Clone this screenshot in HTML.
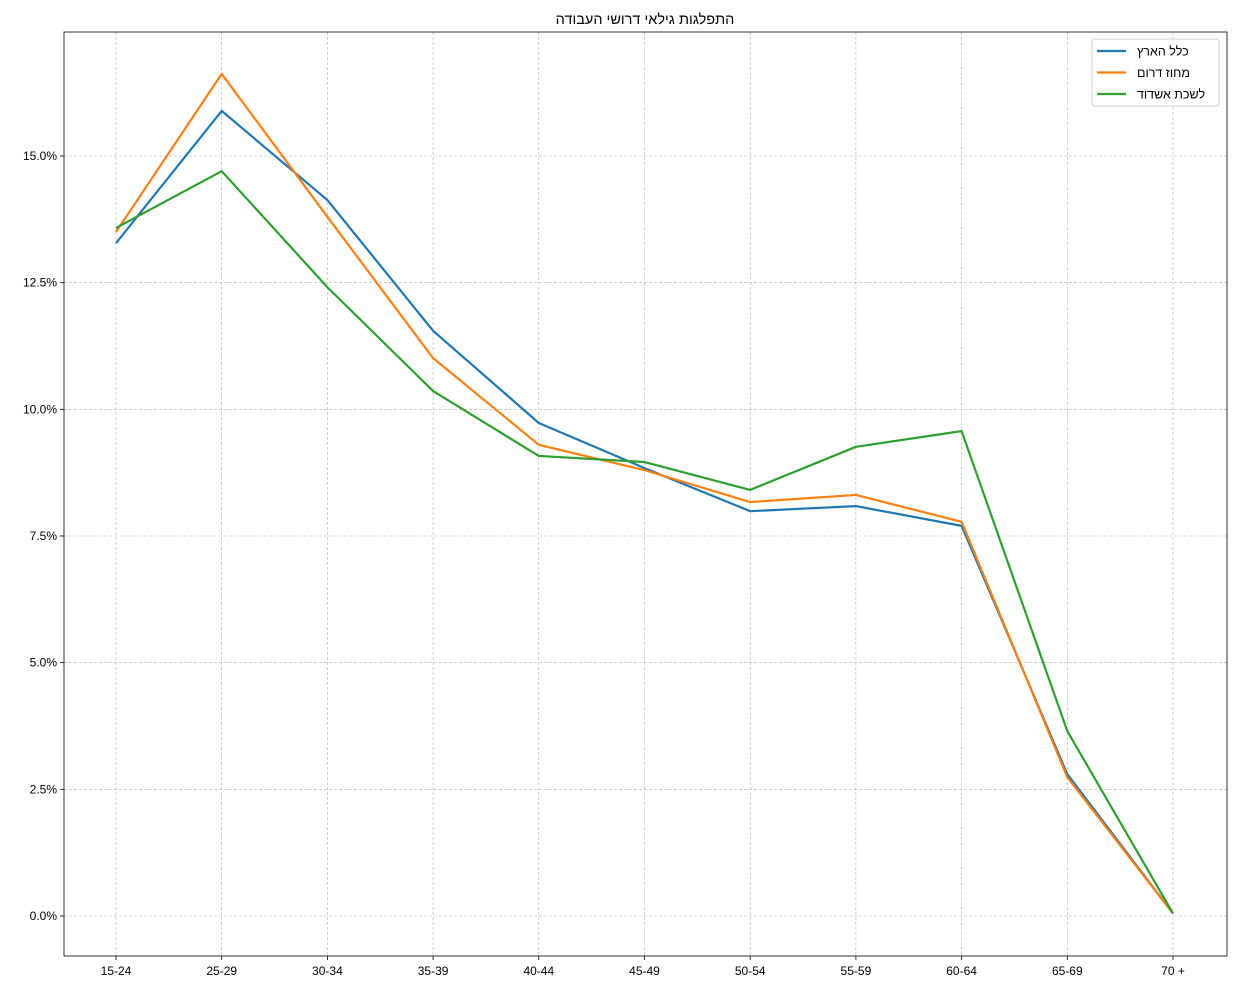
<!DOCTYPE html>
<html><head><meta charset="utf-8"><style>
body{margin:0;background:#fff;}
svg text{font-family:"Liberation Sans","DejaVu Sans",sans-serif;}
</style></head><body>
<svg id="chart" width="1236" height="990" xmlns="http://www.w3.org/2000/svg">
<rect width="1236" height="990" fill="#fff"/>
<g id="grid"></g><g id="axes"></g><g id="series"></g>
<text x="645" y="24" text-anchor="middle" font-size="14.5" fill="#000">התפלגות גילאי דרושי העבודה</text>
<g id="legend"></g>
</svg>
<script>
const categories=["15-24","25-29","30-34","35-39","40-44","45-49","50-54","55-59","60-64","65-69","70 +"];
const seriesNames=["כלל הארץ","מחוז דרום","לשכת אשדוד"];
const national=[13.28,15.89,14.13,11.55,9.73,8.84,7.99,8.09,7.70,2.80,0.05];
const south=[13.5,16.62,13.8,11.01,9.3,8.80,8.17,8.31,7.78,2.74,0.05];
const ashdod=[13.58,14.7,12.41,10.36,9.08,8.96,8.41,9.26,9.57,3.65,0.05];
const yTicks=[0,2.5,5,7.5,10,12.5,15];
const yTickLabels=["0.0%","2.5%","5.0%","7.5%","10.0%","12.5%","15.0%"];
const colors=["#1f77b4","#ff7f0e","#2ca02c"];
const NS="http://www.w3.org/2000/svg";
const L=64,R=1227,T=32,B=956;
function xs(i){return 116+i*(1173-116)/(categories.length-1);}
function ys(v){return 916-v*50.667;}
function mk(tag,attrs,parent){const e=document.createElementNS(NS,tag);for(const k in attrs)e.setAttribute(k,attrs[k]);parent.appendChild(e);return e;}
const grid=document.getElementById('grid'),axes=document.getElementById('axes'),ser=document.getElementById('series'),leg=document.getElementById('legend');
categories.forEach((c,i)=>{
  const g=mk('line',{x1:xs(i),x2:xs(i),y1:T,y2:B,stroke:'#b0b0b0','stroke-width':0.6,'stroke-dasharray':'3,2'},grid);
  
  
  mk('line',{x1:xs(i),x2:xs(i),y1:B,y2:B+4,stroke:'#000','stroke-width':0.8},axes);
  const t=mk('text',{x:xs(i),y:B+19,'text-anchor':'middle','font-size':12},axes);
  t.textContent=c;
  
  
});
yTicks.forEach((v,i)=>{
  const g=mk('line',{x1:L,x2:R,y1:ys(v),y2:ys(v),stroke:'#b0b0b0','stroke-width':0.6,'stroke-dasharray':'3,2'},grid);
  
  
  mk('line',{x1:L-4,x2:L,y1:ys(v),y2:ys(v),stroke:'#000','stroke-width':0.8},axes);
  const t=mk('text',{x:L-7,y:ys(v)+4,'text-anchor':'end','font-size':12},axes);
  t.textContent=yTickLabels[i];
  
  
});
const frame=mk('rect',{x:L,y:T,width:R-L,height:B-T,fill:'none',stroke:'#000','stroke-width':0.8},axes);


[national,south,ashdod].forEach((d,s)=>{
  const p=mk('polyline',{points:d.map((v,i)=>xs(i)+','+ys(v)).join(' '),fill:'none',stroke:colors[s],'stroke-width':2.2,'stroke-linejoin':'round'},ser);
  
  
});
const lb=mk('rect',{x:1092,y:39,width:127,height:67,rx:3,fill:'#fff','fill-opacity':0.85,stroke:'#ccc','stroke-width':1},leg);


seriesNames.forEach((n,s)=>{
  const y=51+s*21.5;
  mk('line',{x1:1097,x2:1126,y1:y,y2:y,stroke:colors[s],'stroke-width':2.2},leg);
  const t=mk('text',{x:1137,y:y+4.5,'font-size':12.5},leg);
  t.textContent=n;
  
  
});
</script>
</body></html>
